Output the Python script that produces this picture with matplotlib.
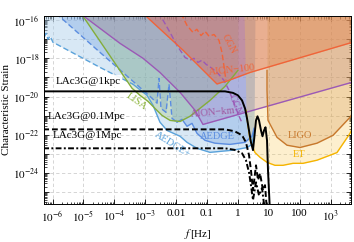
import numpy as np
import matplotlib
matplotlib.use("Agg")
import matplotlib.pyplot as plt
from matplotlib.ticker import FixedLocator, LogLocator, NullFormatter, FuncFormatter

plt.rcParams["font.family"] = ["Liberation Serif", "DejaVu Serif"]
plt.rcParams["mathtext.fontset"] = "stix"

""" LAc3G signals (read off the picture) """
f_1kpc = [5e-7, 0.383, 0.693, 1.0, 1.36, 1.70, 1.97, 2.29, 2.65, 3.08, 3.45, 3.85, 4.31,
          4.82, 5.59, 6.25, 7.0, 7.82, 8.75, 9.42, 10.1, 10.9]
h_1kpc = [1.86e-20, 1.86e-20, 1.55e-20, 1.15e-20, 6.3e-21, 2.4e-21, 7.3e-22, 1.7e-22, 4.1e-23,
          1.6e-23, 9.5e-23, 5.7e-22, 9.3e-22, 5.7e-22, 1.7e-22, 8.5e-23, 1.7e-22, 2.5e-22,
          5.2e-23, 1.4e-24, 1.3e-25, 1e-26]

f_01Mpc = [5e-7, 0.383, 0.78, 1.36, 1.82, 2.29, 2.65, 3.08, 3.85, 4.47, 5.19, 6.49, 7.53, 8.75]
h_01Mpc = [1.94e-22, 1.94e-22, 1.55e-22, 9.6e-23, 4.1e-23, 8.7e-24, 1.4e-24, 1.3e-25, 2.6e-24,
           4.4e-25, 1e-24, 1.3e-25, 2.4e-25, 1e-26]

f_1Mpc = [5e-7, 0.383, 0.78, 1.36, 1.82, 2.29, 2.65, 3.08, 3.85, 4.82, 6.03, 7.5]
h_1Mpc = [2.0e-23, 2.0e-23, 1.66e-23, 1.1e-23, 4.8e-24, 1.1e-24, 2.3e-25, 4e-26, 3.4e-25,
          7e-26, 1.7e-25, 1e-26]

""" Detector sensitivity curves """
f_lisa = [7.2e-6, 3.74e-4, 6.8e-4, 1.23e-3, 2.07e-3, 3.5e-3, 6.35e-3, 1.34e-2, 2.8e-2, 0.125, 0.383, 1.0]
h_lisa = [3.1e-16, 2.7e-20, 1.15e-20, 5.6e-21, 2.4e-21, 1.04e-21, 5.7e-22, 5.0e-22, 9.3e-22,
          6.3e-21, 3.4e-20, 2.3e-19]

f_aionkm = [7.8e-6, 1.53e-4, 8.5e-4, 3.0e-3, 1.34e-2, 4.1e-2, 7.4e-2, 4.9e3]
h_aionkm = [2.15e-16, 5.9e-18, 9.8e-19, 1.8e-19, 1.65e-20, 1.9e-21, 3.5e-22, 5.5e-20]

f_aion100 = [8.5e-4, 1.67e-2, 0.21, 0.305, 0.42, 2.47, 4.9e3]
h_aion100 = [2.15e-16, 2.6e-18, 4.5e-20, 5.5e-20, 6.2e-20, 1.8e-19, 6.6e-18]

f_ggn100 = [1.44e-2, 2.25e-2, 3.5e-2, 4.7e-2, 6.4e-2, 8.6e-2, 0.116, 0.169, 0.244, 0.305, 0.355, 0.41]
h_ggn100 = [2.15e-16, 5.1e-17, 2.2e-17, 3.2e-17, 1.5e-17, 2.5e-17, 1.4e-17, 1.7e-17, 8.5e-18,
            2.0e-18, 3.7e-19, 6.9e-20]

f_ggnkm = [2.41e-3, 3.5e-3, 6.35e-3, 1.07e-2, 1.94e-2, 2.82e-2, 3.79e-2, 5.1e-2, 6.9e-2, 9.3e-2,
           0.145, 0.227, 0.355, 0.515, 0.748, 1.09, 1.30]
h_ggnkm = [2.15e-16, 1.18e-16, 2.2e-17, 4.6e-18, 1.1e-18, 7.8e-19, 9.8e-19, 6.0e-19, 7.8e-19,
           4.8e-19, 2.95e-19, 1.6e-19, 6.9e-20, 2.1e-20, 4.5e-21, 9.3e-22, 5e-22]

f_aedge = [1.3e-6, 3.44e-5, 4.03e-4, 1.43e-3, 2.41e-3, 2.8e-3, 3.24e-3, 4.71e-3, 5.9e-3, 7.36e-3,
           1.07e-2, 1.55e-2, 2.25e-2, 3.27e-2, 4.74e-2, 8.6e-2, 0.18, 0.55, 1.70, 2.86, 3.32, 3.57]
h_aedge = [2.15e-16, 2.0e-18, 6.2e-20, 1.02e-20, 4.5e-21, 8.9e-20, 2.4e-21, 1.5e-21, 4.4e-20,
           7.3e-22, 4.6e-22, 6.5e-22, 2.8e-22, 4.0e-22, 1.2e-22, 5.2e-23, 3.7e-23, 3.2e-23,
           4.1e-23, 8.5e-23, 2.2e-22, 3.2e-16]

f_aedgep = [5.3e-7, 6.2e-7, 7.1e-7, 8.3e-7, 1.04e-6, 1.4e-6, 3.44e-5, 4.0e-4, 1.14e-3, 1.79e-3,
            3.0e-3, 5.1e-3, 1.34e-2, 2.25e-2, 4.74e-2, 0.125, 0.69, 1.97, 2.86, 3.32, 3.57]
h_aedgep = [1.2e-17, 1.95e-17, 9.5e-18, 1.4e-17, 6.6e-18, 5.2e-18, 3.3e-19, 4.4e-20, 1.15e-20,
            3.5e-21, 4.6e-22, 1.7e-22, 8.5e-23, 4.1e-23, 2.0e-23, 1.23e-23, 1.6e-23, 2.2e-23,
            3.2e-23, 1.7e-22, 3.2e-16]

f_ligo = [8.75, 8.75, 8.75, 9.42, 18.4, 38.8, 102, 363, 1197, 4250, 4930]
h_ligo = [3.2e-16, 2.3e-19, 2.1e-20, 5.7e-22, 7.5e-23, 2.9e-23, 2.2e-23, 3.7e-23, 9.5e-23, 8.3e-22, 1.2e-21]

f_et = [1.57, 1.70, 1.83, 2.12, 2.47, 3.57, 5.19, 8.75, 15.8, 28.8, 60.7, 128, 363, 1610, 4250, 4930]
h_et = [3.2e-16, 7.8e-19, 1.9e-21, 3.1e-22, 5.2e-23, 1.2e-23, 6.8e-24, 3.7e-24, 2.6e-24, 2.6e-24,
        3.3e-24, 3.3e-24, 4.8e-24, 1.2e-23, 1.2e-22, 2.0e-22]

x_ticks = [1e-6, 1e-5, 1e-4, 1e-3, 1e-2, 1e-1, 1, 10, 100, 1e3]
x_tick_labels = [r"$10^{-6}$", r"$10^{-5}$", r"$10^{-4}$", r"$10^{-3}$", "0.01", "0.1", "1",
                 "10", "100", r"$10^{3}$"]
y_ticks = [1e-25, 1e-24, 1e-23, 1e-22, 1e-21, 1e-20, 1e-19, 1e-18, 1e-17, 1e-16]

TOP = 1e-15

fig = plt.figure(figsize=(3.54, 2.42), dpi=100)
ax = fig.add_axes([0.1257, 0.157, 0.8658, 0.777])
ax.set_xscale("log")
ax.set_yscale("log")

# filled sensitivity regions
fills = [
    (f_aedgep, h_aedgep, "#a9cdea", 0.45),
    (f_aedge, h_aedge, "#6f9ee0", 0.35),
    (f_lisa, h_lisa, "#8db53c", 0.22),
    (f_aionkm, h_aionkm, "#9a62b4", 0.25),
    (f_aion100, h_aion100, "#e35d4a", 0.40),
    (f_et, h_et, "#f8c850", 0.28),
    (f_ligo, h_ligo, "#d08a3c", 0.25),
]
for fx, hy, c, a in fills:
    ax.fill_between(fx, hy, TOP, color=c, alpha=a, lw=0, zorder=1)

# boundary lines (vertical closing edges are not drawn)
ax.plot(f_aedgep[:8], h_aedgep[:8], color="#5aa2da", lw=1.0, ls=(0, (4, 2)), zorder=2)
ax.plot(f_aedgep[7:-1], h_aedgep[7:-1], color="#5aa2da", lw=1.0, zorder=2)
ax.plot(f_aedge[:11], h_aedge[:11], color="#5b8de0", lw=1.0, ls=(0, (4, 2)), zorder=2)
ax.plot(f_aedge[10:-1], h_aedge[10:-1], color="#5b8de0", lw=1.0, zorder=2)
ax.plot(f_lisa, h_lisa, color="#84ad3a", lw=1.0, zorder=2)
ax.plot(f_aionkm, h_aionkm, color="#9b59b6", lw=1.0, zorder=2)
ax.plot(f_ggnkm, h_ggnkm, color="#9b59b6", lw=1.0, ls=(0, (4, 2)), zorder=2)
ax.plot(f_aion100, h_aion100, color="#f06439", lw=1.0, zorder=2)
ax.plot(f_ggn100, h_ggn100, color="#f06439", lw=1.0, ls=(0, (4, 2)), zorder=2)
ax.plot(f_ligo[1:], h_ligo[1:], color="#c7782c", lw=1.0, zorder=2)
ax.plot(f_et[2:], h_et[2:], color="#f5b400", lw=1.0, zorder=2)

# LAc3G signals
ax.plot(f_1kpc, h_1kpc, color="black", lw=1.4, zorder=3)
ax.plot(f_01Mpc, h_01Mpc, color="black", lw=1.4, ls=(0, (3, 1.5)), zorder=3)
ax.plot(f_1Mpc, h_1Mpc, color="black", lw=1.4, ls=(0, (3, 1.2, 1, 1.2)), zorder=3)

# labels
ax.text(1.41e-5, 6.2e-20, "LAc3G@1kpc", fontsize=8, ha="center", va="center", zorder=4,
        bbox=dict(boxstyle="square,pad=0.15", fc="white", ec="none", alpha=0.9))
ax.text(7.1e-7, 9.3e-22, "LAc3G@0.1Mpc", fontsize=8, ha="left", va="center", zorder=4)
ax.text(1.04e-6, 9.5e-23, "LAc3G@1Mpc", fontsize=8, ha="left", va="center", zorder=4)
ax.text(5.4e-4, 5.6e-21, "LISA", fontsize=7.5, color="#8db53c", rotation=-35,
        ha="center", va="center", zorder=4)
ax.text(7.4e-3, 3.2e-23, "AEDGE+", fontsize=7.5, color="#5aa2da", rotation=-32,
        ha="center", va="center", zorder=4)
ax.text(0.21, 8.5e-23, "AEDGE", fontsize=7.5, color="#5b8de0", ha="center", va="center", zorder=4)
ax.text(0.156, 1.5e-21, "AION\u2212km", fontsize=7.5, color="#a0559e", rotation=5,
        ha="center", va="center", zorder=4)
ax.text(0.64, 2.3e-19, "AION\u2212100", fontsize=7.5, color="#f06439", rotation=6,
        ha="center", va="center", zorder=4)
ax.text(0.52, 5.2e-18, "GGN", fontsize=7, color="#f06439", rotation=-62,
        ha="center", va="center", zorder=4)
ax.text(0.8, 3.5e-21, "GGN", fontsize=7, color="#9b59b6", rotation=-68,
        ha="center", va="center", zorder=4)
ax.text(102, 9.5e-23, "LIGO", fontsize=7.5, color="#c7782c", ha="center", va="center", zorder=4)
ax.text(96, 1e-23, "ET", fontsize=7.5, color="#f5b400", ha="center", va="center", zorder=4)

ax.set_xlim(5.5e-7, 4.57e3)
ax.set_ylim(2.5e-26, 1.58e-16)

ax.xaxis.set_major_locator(FixedLocator(x_ticks))
ax.set_xticklabels(x_tick_labels)
ax.xaxis.set_minor_locator(LogLocator(base=10, subs=np.arange(2, 10), numticks=30))
ax.xaxis.set_minor_formatter(NullFormatter())
ax.yaxis.set_major_locator(FixedLocator(y_ticks))
ax.yaxis.set_major_formatter(FuncFormatter(
    lambda v, p: r"$10^{%d}$" % round(np.log10(v)) if round(np.log10(v)) % 2 == 0 else ""))
ax.yaxis.set_minor_locator(LogLocator(base=10, subs=np.arange(2, 10), numticks=30))
ax.yaxis.set_minor_formatter(NullFormatter())

ax.tick_params(which="both", direction="in", top=True, right=True, labelsize=8)
ax.tick_params(which="major", length=3.5, width=0.6)
ax.tick_params(which="minor", length=1.8, width=0.5)
ax.grid(True, which="major", ls=(0, (4, 3)), color="#cfcfcf", lw=0.6)
ax.set_axisbelow(True)
for s in ax.spines.values():
    s.set_linewidth(0.7)

ax.set_xlabel(r"$f\,$[Hz]", fontsize=8, labelpad=2)
ax.set_ylabel("Characteristic Strain", fontsize=8, labelpad=2)

fig.savefig("out.png", dpi=100)
